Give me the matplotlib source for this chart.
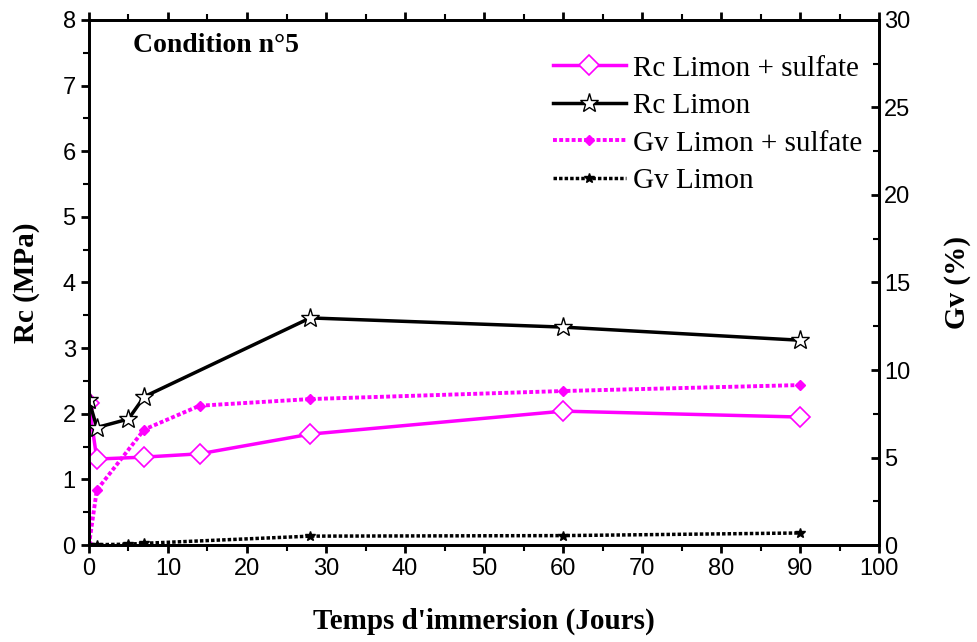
import matplotlib
matplotlib.use("Agg")
import matplotlib.pyplot as plt
from matplotlib.ticker import MultipleLocator

# data
jours_rc_sulf = [0, 1, 7, 14, 28, 60, 90]
rc_sulf = [2.16, 1.31, 1.34, 1.39, 1.69, 2.04, 1.95]
jours_rc = [0, 1, 5, 7, 28, 60, 90]
rc_limon = [2.21, 1.79, 1.92, 2.26, 3.46, 3.32, 3.12]

jours_gv_sulf = [0, 1, 7, 14, 28, 60, 90]
gv_sulf = [0.0, 3.14, 6.6, 7.96, 8.34, 8.8, 9.14]
jours_gv = [0, 1, 5, 7, 28, 60, 90]
gv_limon = [0.0, 0.02, 0.05, 0.1, 0.51, 0.54, 0.69]

MAG = "#FF00FF"
serif = "Liberation Serif"
sans = "Liberation Sans"

fig = plt.figure(figsize=(9.77, 6.42), dpi=100)
ax = fig.add_axes([0.091, 0.151, 0.809, 0.818])
ax2 = ax.twinx()

dots = (0, (1.0, 0.6))
l1, = ax.plot(jours_rc_sulf, rc_sulf, color=MAG, lw=2.5, marker="D", ms=10,
              mfc="white", mec=MAG, mew=1.2, label="Rc Limon + sulfate", zorder=3)
l2, = ax.plot(jours_rc, rc_limon, color="black", lw=2.5, marker="*", ms=14,
              mfc="white", mec="black", mew=1.0, label="Rc Limon", zorder=3)
l3, = ax2.plot(jours_gv_sulf, gv_sulf, color=MAG, lw=2.8, ls=dots, marker="D", ms=5,
               mfc=MAG, mec=MAG, label="Gv Limon + sulfate")
l4, = ax2.plot(jours_gv, gv_limon, color="black", lw=2.5, ls=dots, marker="*", ms=7,
               mfc="black", mec="black", label="Gv Limon")

ax.set_xlim(0, 100)
ax.set_ylim(0, 8)
ax2.set_ylim(0, 30)
ax.xaxis.set_major_locator(MultipleLocator(10))
ax.xaxis.set_minor_locator(MultipleLocator(5))
ax.yaxis.set_major_locator(MultipleLocator(1))
ax.yaxis.set_minor_locator(MultipleLocator(0.5))
ax2.yaxis.set_major_locator(MultipleLocator(5))
ax2.yaxis.set_minor_locator(MultipleLocator(2.5))

for a in (ax, ax2):
    for s in a.spines.values():
        s.set_linewidth(2)
ax.tick_params(which="major", direction="out", length=6, width=2, labelsize=17, top=True)
ax.tick_params(which="minor", direction="out", length=4, width=1.5, top=True)
ax2.tick_params(which="major", direction="in", length=6, width=2, labelsize=17)
ax2.tick_params(which="minor", direction="in", length=4, width=1.5)
for lab in ax.get_xticklabels() + ax.get_yticklabels() + ax2.get_yticklabels():
    lab.set_fontfamily(sans)

ax.set_xlabel("Temps d'immersion (Jours)", fontfamily=serif, fontweight="bold",
              fontsize=21, labelpad=20)
ax.set_ylabel("Rc (MPa)", fontfamily=serif, fontweight="bold", fontsize=21, labelpad=16)
ax2.set_ylabel("Gv (%)", fontfamily=serif, fontweight="bold", fontsize=21, labelpad=24)

ax.text(0.056, 0.975, "Condition n°5", transform=ax.transAxes, ha="left", va="top",
        fontfamily=serif, fontweight="bold", fontsize=20)

ax.legend(handles=[l1, l2, l3, l4], loc="upper left", bbox_to_anchor=(0.572, 0.955),
          frameon=False, prop={"family": serif, "size": 21}, handlelength=2.5,
          handletextpad=0.25, labelspacing=0.38, borderaxespad=0)

fig.savefig("out.png", dpi=100)
